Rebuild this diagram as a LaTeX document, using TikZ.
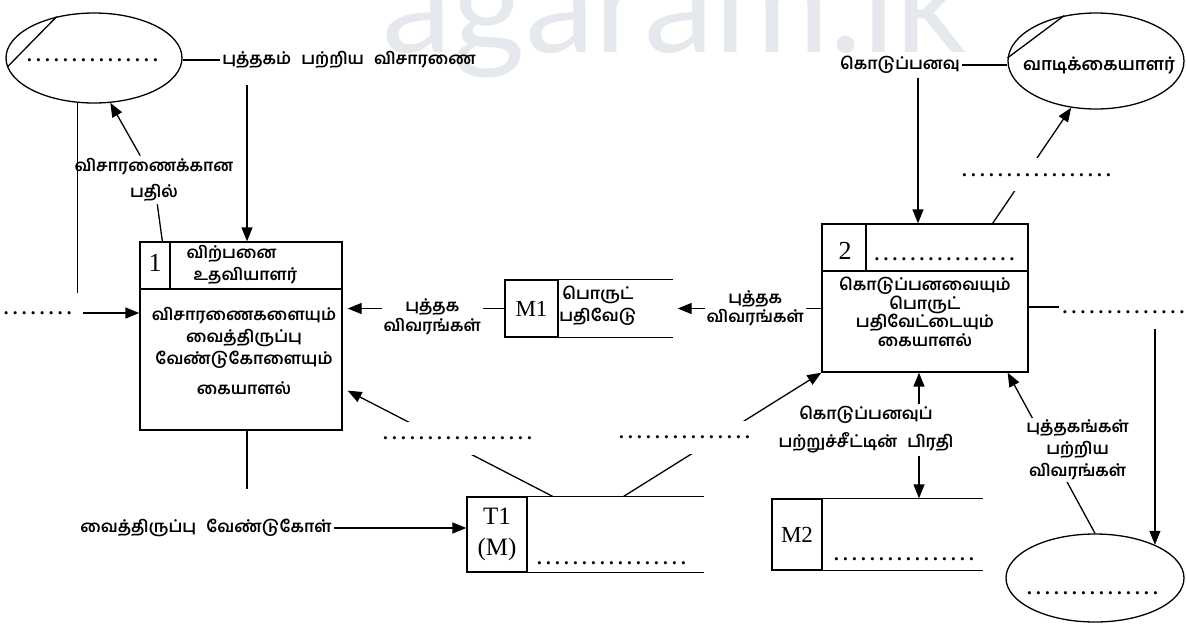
\documentclass[tikz,border=0pt]{standalone}
\usepackage{fontspec}
\usetikzlibrary{shapes.geometric,arrows.meta,calc}
\setmainfont{Liberation Serif}
\newfontfamily\tamil[Script=Tamil]{Hind Madurai}
\newfontfamily\wmark{Lato}
\definecolor{wmgray}{RGB}{229,233,238}
\newcommand{\blanks}[1]{\hbox to #1{\leaders\hbox to 9pt{\hss.\hss}\hfill}}

\begin{document}
\begin{tikzpicture}[x=1pt,y=-1pt,line width=1.3pt,
  tam/.style={font=\tamil\bfseries\fontsize{16.5}{22}\selectfont, align=center, inner sep=2pt},
  lbl/.style={tam, fill=white},
  gap/.style={font=\bfseries\fontsize{19}{19}\selectfont, inner sep=1pt},
  gapl/.style={gap, fill=white, minimum height=33pt},
  flow/.style={-{Triangle[length=14pt,width=11pt]}},
  ent/.style={draw, ellipse, inner sep=0pt},
  idcell/.style={draw, inner sep=0pt, font=\fontsize{23}{24}\selectfont}]
	\useasboundingbox (0,0) rectangle (1186,638);

	%watermark
	\node[anchor=base west, inner sep=0pt, text=wmgray, font=\wmark\fontsize{140}{140}\selectfont] (mark) at (382,52) {agaram.lk};

	%external entities
	\node[ent, minimum width=176, minimum height=90] (ent1) at (94,58) {};
	\draw (ent1.132) -- (ent1.186);
	\node[gap] (ent1gap) at (96,60) {\blanks{142pt}};

	\node[ent, minimum width=176, minimum height=96] (ent2) at (1096,61) {};
	\draw (ent2.125) -- (ent2.178);
	\node[tam, font=\tamil\bfseries\fontsize{17.5}{22}\selectfont] (cust) at (1099,65) {வாடிக்கையாளர்};

	\node[ent, minimum width=178, minimum height=88] (ent3) at (1095,578) {};
	\node[gap] (ent3gap) at (1095,593) {\blanks{140pt}};

	%processes
	\node[draw, minimum width=202, minimum height=188] (b1) at (241,336) {};
	\draw (b1.west |- 0,289) -- (b1.east |- 0,289);
	\draw (170,242) -- (170,289);
	\node[font=\fontsize{26}{26}\selectfont] (b1id) at (155,263) {1};
	\node[tam, align=left, anchor=west] (b1who) at (184,265) {விற்பனை\\\hspace{7pt}உதவியாளர்};
	\node[tam] (b1txt) at (244,351) {விசாரணைகளையும்\\வைத்திருப்பு\\வேண்டுகோளையும்\\[8pt]கையாளல்};

	\node[draw, minimum width=206, minimum height=148] (b2) at (925,298) {};
	\draw (b2.west |- 0,271) -- (b2.east |- 0,271);
	\draw (866,224) -- (866,271);
	\node[font=\fontsize{26}{26}\selectfont] (b2id) at (845,251) {2};
	\node[gap] (b2gap) at (946,259) {\blanks{147pt}};
	\node[tam, font=\tamil\bfseries\fontsize{16.5}{18.5}\selectfont] (b2txt) at (925,312) {கொடுப்பனவையும்\\பொருட்\\பதிவேட்டையும்\\கையாளல்};

	%data stores
	\node[idcell, minimum width=53, minimum height=57] (m1) at (531.5,308.5) {M1};
	\draw (m1.north east) -- ++(114,0);
	\draw (m1.south east) -- ++(114,0);
	\node[tam] (m1name) at (598,306) {பொருட்\\பதிவேடு};
	\coordinate (m1open) at ($(m1.east)+(119,0)$);

	\node[idcell, minimum width=50, minimum height=71] (m2) at (797,534.5) {M2};
	\draw (m2.north east) -- ++(160,0);
	\draw (m2.south east) -- ++(160,0);
	\node[gap] (m2gap) at (905,559) {\blanks{146pt}};

	\node[idcell, minimum width=60, minimum height=75, align=center, font=\fontsize{25}{31}\selectfont] (t1) at (497,534.5) {T1\\(M)};
	\draw (t1.north east) -- ++(176,0);
	\draw (t1.south east) -- ++(176,0);
	\node[gap] (t1gap) at (615,563) {\blanks{160pt}};

	%flows
	\node[tam] (qry) at (349,60) {புத்தகம்\hspace{6pt} பற்றிய\hspace{6pt} விசாரணை};
	\draw (ent1.east |- qry) -- (qry.west);
	\draw[flow] ($(qry.south -| b1.north)+(6,14)$) -- ($(b1.north)+(6,0)$);

	\node[tam, font=\tamil\bfseries\fontsize{16.5}{26}\selectfont] (ans) at (154,180) {விசாரணைக்கான\\பதில்};
	\draw ($(b1.north west)+(23,0)$) -- (ans);
	\draw[flow] (ans) -- (ent1.290);

	\draw[flow] (ent1.250) |- node[gapl, pos=0.5, xshift=-36pt, minimum height=40pt] (inq) {\blanks{80pt}} (b1.west |- 0,313);

	\draw[flow] (m1.west) -- node[lbl, pos=0.46, yshift=-8pt, font=\tamil\bfseries\fontsize{16.5}{20}\selectfont] (bk1) {புத்தக\\விவரங்கள்} ($(b1.east |- m1.west)+(5,0)$);
	\draw[flow] (b2.west |- m1open) -- node[lbl, pos=0.46, font=\tamil\bfseries\fontsize{16.5}{19}\selectfont] (bk2) {புத்தக\\விவரங்கள்} (m1open);

	\draw[flow] ($(t1.north east)+(25,0)$) -- node[gapl, pos=0.552, xshift=18pt] (q1) {\blanks{153pt}} ($(b1.south east)+(5,-40)$);
	\draw[flow] ($(t1.north east)+(96,0)$) -- node[gapl, pos=0.475, xshift=-29pt] (q2) {\blanks{143pt}} (b2.south west);

	\coordinate (b1s) at ($(b1.south)+(6,0)$);
	\draw (b1s) -- ++(0,58);
	\node[tam] (req) at (206,528) {வைத்திருப்பு\hspace{6pt} வேண்டுகோள்};
	\draw[flow] (req.east) -- (t1.west |- req);

	\node[tam] (pay) at (900,65) {கொடுப்பனவு};
	\draw (pay.east) -- (pay.east -| ent2.west);
	\draw[flow] ($(pay.south -| b2.north)+(-7,2)$) -- ($(b2.north)+(-7,0)$);

	\draw[flow] ($(b2.north east)+(-36,0)$) -- node[gapl, pos=0.419, xshift=11pt] (q3) {\blanks{153pt}} (ent2.242);
	\draw[flow] (b2.east |- 0,307) -| node[gapl, pos=0.5, xshift=-31pt, yshift=-5pt, minimum height=34pt] (q4) {\blanks{127pt}} (ent3.29);

	\draw[flow] (ent3.north) -- node[lbl, pos=0.52, xshift=28pt] (info) {புத்தகங்கள்\\பற்றிய\\விவரங்கள்} ($(b2.south east)+(-21,0)$);

	\node[tam, font=\tamil\bfseries\fontsize{16.5}{28}\selectfont] (rcpt) at (866,430) {கொடுப்பனவுப்\\பற்றுச்சீட்டின்\hspace{6pt} பிரதி};
	\coordinate (rx) at ($(b2.south)+(-6,0)$);
	\draw[flow] (rcpt.north -| rx) -- (rx);
	\draw[flow] (rcpt.south -| rx) -- (rx |- m2.north);
\end{tikzpicture}
\end{document}
